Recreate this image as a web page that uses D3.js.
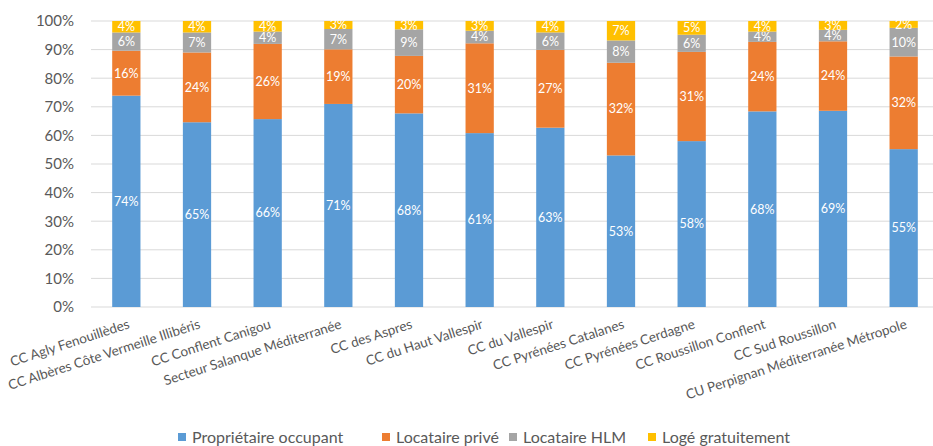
<!DOCTYPE html>
<html>
<head>
<meta charset="utf-8">
<script src="https://cdn.jsdelivr.net/npm/d3@7"></script>
<style>
  body { margin: 0; background: #fff; }
  text { font-family: Lato, "Open Sans", sans-serif; }
</style>
</head>
<body>
<div id="chart"></div>
<script>
// categories and series (percentages)
const categories = [
  "CC Agly Fenouillèdes", "CC Albères Côte Vermeille Illibéris", "CC Conflent Canigou",
  "Secteur Salanque Méditerranée", "CC des Aspres", "CC du Haut Vallespir", "CC du Vallespir",
  "CC Pyrénées Catalanes", "CC Pyrénées Cerdagne", "CC Roussillon Conflent",
  "CC Sud Roussillon", "CU Perpignan Méditerranée Métropole"
];
const seriesNames = ["Propriétaire occupant", "Locataire privé", "Locataire HLM", "Logé gratuitement"];
const seriesColors = ["#5B9BD5", "#ED7D31", "#A5A5A5", "#FFC000"];

const proprietaire = [73.9, 64.6, 65.7, 71.0, 67.7, 60.8, 62.7, 53.0, 58.0, 68.4, 68.6, 55.2];
const locPrive     = [15.7, 24.4, 26.3, 19.1, 20.1, 31.4, 27.2, 32.4, 31.2, 24.3, 24.3, 32.4];
const locHLM       = [6.4, 7.0, 4.3, 7.1, 9.3, 4.4, 6.1, 7.8, 6.0, 3.6, 4.0, 10.0];
const loge         = [4.0, 4.0, 3.7, 2.8, 2.9, 3.4, 4.0, 6.8, 4.8, 3.7, 3.1, 2.4];
const yTicks = [0, 10, 20, 30, 40, 50, 60, 70, 80, 90, 100];

const width = 933, height = 446;
const margin = { top: 21, right: -6, bottom: 139, left: 91 };

const table = categories.map((c, i) => ({
  cat: c, s0: proprietaire[i], s1: locPrive[i], s2: locHLM[i], s3: loge[i]
}));
const stack = d3.stack().keys(["s0", "s1", "s2", "s3"])(table);

const svg = d3.select("#chart").append("svg")
  .attr("width", width).attr("height", height);

const x = d3.scaleBand()
  .domain(categories)
  .range([margin.left, width - margin.right])
  .paddingInner(0.6).paddingOuter(0.3);

const y = d3.scaleLinear()
  .domain([0, 100])
  .range([height - margin.bottom, margin.top]);

// gridlines
svg.append("g")
  .selectAll("line")
  .data(yTicks)
  .join("line")
  .attr("x1", margin.left).attr("x2", width)
  .attr("y1", d => y(d)).attr("y2", d => y(d))
  .attr("stroke", "#D9D9D9").attr("stroke-width", 1);

// y axis labels
const yAxis = svg.append("g")
  .attr("transform", `translate(${margin.left - 14},0)`)
  .call(d3.axisLeft(y).tickValues(yTicks).tickFormat(d => d + "%").tickSize(0));
yAxis.select(".domain").remove();
yAxis.selectAll("text")
  .attr("font-size", "15px").attr("fill", "#595959")
  .style("font-family", "Lato, 'Open Sans', sans-serif");

// bars
const groups = svg.append("g")
  .selectAll("g")
  .data(stack)
  .join("g")
  .attr("fill", (d, i) => seriesColors[i]);

groups.selectAll("rect")
  .data(d => d)
  .join("rect")
  .attr("x", d => x(d.data.cat))
  .attr("width", x.bandwidth())
  .attr("y", d => y(d[1]))
  .attr("height", d => y(d[0]) - y(d[1]));

// value labels
groups.selectAll("text")
  .data(d => d)
  .join("text")
  .attr("x", d => x(d.data.cat) + x.bandwidth() / 2)
  .attr("y", d => (y(d[0]) + y(d[1])) / 2)
  .attr("dy", "0.35em")
  .attr("text-anchor", "middle")
  .attr("font-size", "12.5px")
  .attr("fill", "#fff")
  .text(d => Math.round(d[1] - d[0]) + "%");

// category labels (rotated)
svg.append("g")
  .selectAll("text")
  .data(categories)
  .join("text")
  .attr("transform", d => `translate(${x(d) + x.bandwidth() / 2 + 4},${y(0) + 21}) rotate(-18)`)
  .attr("text-anchor", "end")
  .attr("font-size", "13.5px")
  .attr("fill", "#595959")
  .text(d => d);

// legend
const legendX = [178, 382, 509, 648];
const legend = svg.append("g")
  .selectAll("g")
  .data(seriesNames)
  .join("g")
  .attr("transform", (d, i) => `translate(${legendX[i]},${height - 3})`);
legend.append("rect")
  .attr("x", 0).attr("y", -10).attr("width", 8).attr("height", 8)
  .attr("fill", (d, i) => seriesColors[i]);
legend.append("text")
  .attr("x", 14).attr("y", 0)
  .attr("font-size", "16px")
  .attr("fill", "#595959")
  .text(d => d);
</script>
</body>
</html>
